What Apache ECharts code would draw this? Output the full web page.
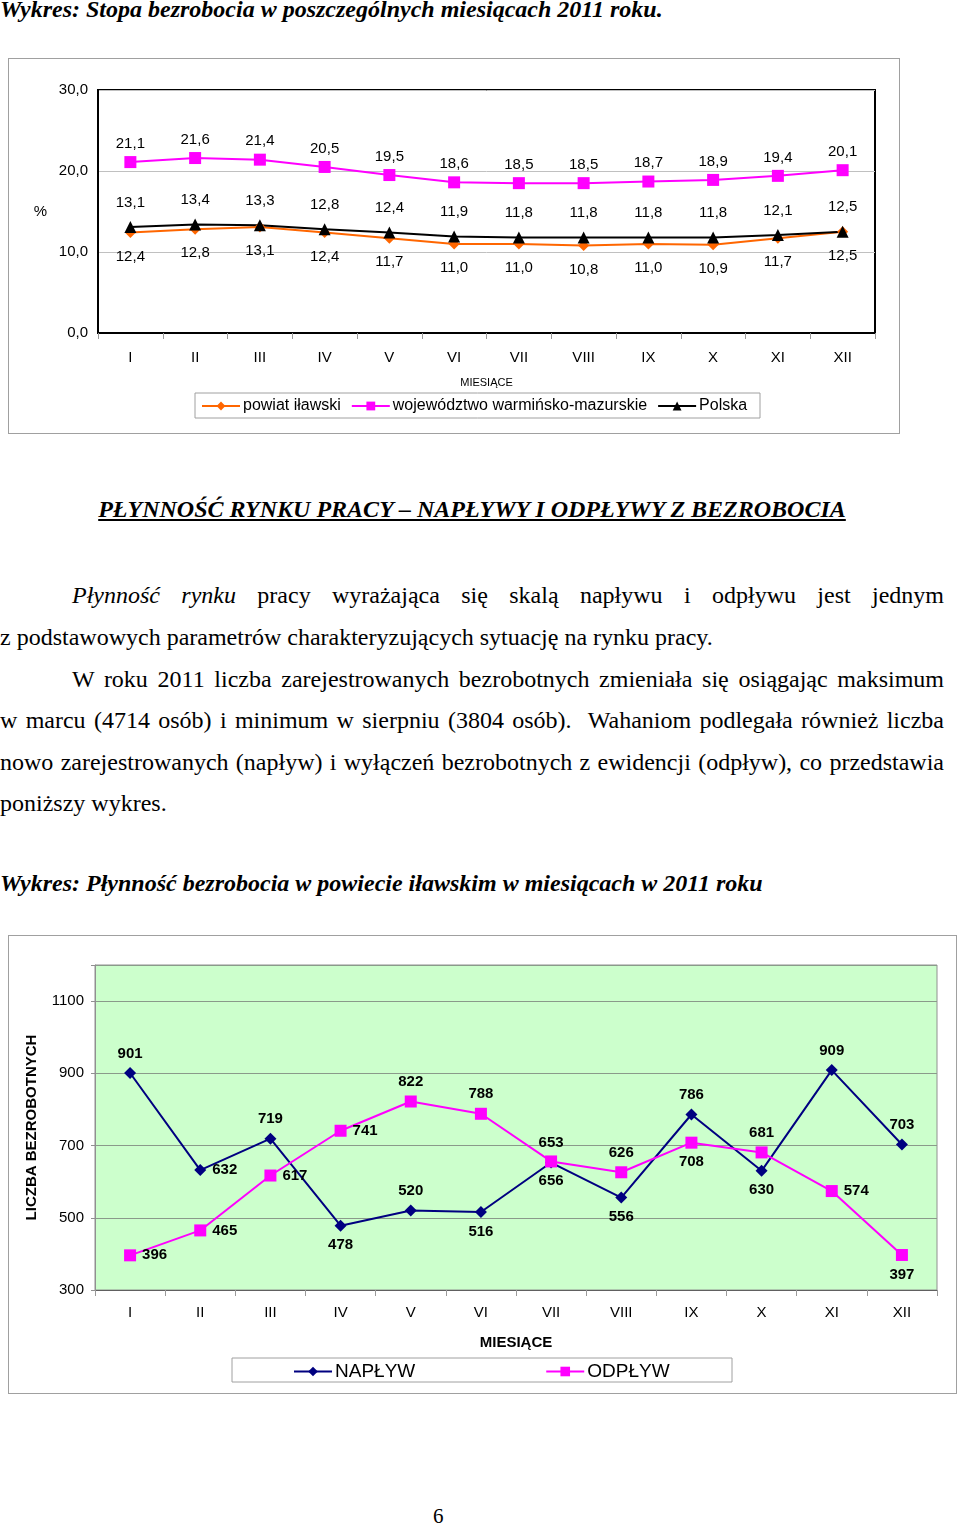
<!DOCTYPE html>
<html><head><meta charset="utf-8">
<script src="https://cdn.jsdelivr.net/npm/echarts@6/dist/echarts.min.js"></script>
<style>
html,body{margin:0;padding:0;background:#fff;}
body{width:960px;height:1527px;position:relative;overflow:hidden;font-family:"Liberation Serif","Times New Roman",serif;color:#000;}
.t{position:absolute;white-space:nowrap;}
.bi{font-weight:bold;font-style:italic;}
.ln{position:absolute;left:0;width:944px;font-size:24px;line-height:42px;height:42px;text-align:justify;text-align-last:justify;white-space:normal;}
.ln.last{text-align-last:left;white-space:nowrap;}
.box{position:absolute;border:1px solid #a0a0a0;box-sizing:border-box;background:#fff;}
</style></head>
<body>
<div class="t bi" style="left:0;top:-4px;font-size:24px;">Wykres: Stopa bezrobocia w poszczególnych miesiącach 2011 roku.</div>
<div id="c1" class="box" style="left:8px;top:58px;width:892px;height:376px;"></div>
<div class="t bi" style="left:0;width:944px;text-align:center;top:496px;font-size:24px;text-decoration:underline;">PŁYNNOŚĆ RYNKU PRACY – NAPŁYWY I ODPŁYWY Z BEZROBOCIA</div>
<div class="ln" style="top:574px;"><span style="margin-left:72px;"></span><i>Płynność rynku</i> pracy wyrażająca się skalą napływu i odpływu jest jednym</div>
<div class="ln last" style="top:616px;">z podstawowych parametrów charakteryzujących sytuację na rynku pracy.</div>
<div class="ln" style="top:658px;"><span style="margin-left:72px;"></span>W roku 2011 liczba zarejestrowanych bezrobotnych zmieniała się osiągając maksimum</div>
<div class="ln" style="top:699px;">w marcu (4714 osób) i minimum w sierpniu (3804 osób).&nbsp; Wahaniom podlegała również liczba</div>
<div class="ln" style="top:741px;">nowo zarejestrowanych (napływ) i wyłączeń bezrobotnych z ewidencji (odpływ), co przedstawia</div>
<div class="ln last" style="top:782px;">poniższy wykres.</div>
<div class="t bi" style="left:0;top:870px;font-size:24px;">Wykres: Płynność bezrobocia w powiecie iławskim w miesiącach w 2011 roku</div>
<div id="c2" class="box" style="left:8px;top:935px;width:949px;height:459px;"></div>
<div class="t" style="left:433px;top:1504px;font-size:21px;">6</div>
<script>
// ---- data ----
const months = ['I','II','III','IV','V','VI','VII','VIII','IX','X','XI','XII'];
const powiat = [12.4,12.8,13.1,12.4,11.7,11.0,11.0,10.8,11.0,10.9,11.7,12.5];
const wojewodztwo = [21.1,21.6,21.4,20.5,19.5,18.6,18.5,18.5,18.7,18.9,19.4,20.1];
const polska = [13.1,13.4,13.3,12.8,12.4,11.9,11.8,11.8,11.8,11.8,12.1,12.5];
const seriesNames1 = ['powiat iławski','województwo warmińsko-mazurskie','Polska'];

const naplyw = [901,632,719,478,520,516,653,556,786,630,909,703];
const odplyw = [396,465,617,741,822,788,656,626,708,681,574,397];
const seriesNames2 = ['NAPŁYW','ODPŁYW'];

// label placement (layout only)
const naplywLabelPos = ['top','right','top','bottom','top','bottom','top','bottom','top','bottom','top','top'];
const odplywLabelPos = ['right','right','right','right','top','top','bottom','top','bottom','top','right','bottom'];

const SANS = '"Liberation Sans", Arial, sans-serif';
const fmt1 = v => Number(v).toFixed(1).replace('.', ',');

// ---- chart 1 ----
const c1 = echarts.init(document.getElementById('c1'), null, {renderer:'canvas'});
c1.setOption({
  animation:false,
  textStyle:{fontFamily:SANS},
  grid:{left:89, top:31, width:777, height:243, show:true, borderColor:'#000', borderWidth:2, backgroundColor:'#fff', containLabel:false},
  graphic:[{type:'rect', shape:{x:186, y:334, width:565, height:25}, style:{fill:'#fff', stroke:'#a0a0a0', lineWidth:1}, z:-1}],
  legend:{left:192, top:339, itemWidth:38, itemHeight:11, itemGap:10, padding:0,
    textStyle:{fontSize:16, color:'#000', fontFamily:SANS, padding:[0,0,0,-2]}, data:seriesNames1},
  xAxis:{type:'category', data:months, boundaryGap:true,
    axisLine:{lineStyle:{color:'#000', width:2}},
    axisTick:{show:true, length:6, lineStyle:{color:'#999'}},
    axisLabel:{color:'#000', fontSize:15, margin:17, fontFamily:SANS},
    name:'MIESIĄCE', nameLocation:'middle', nameGap:44, nameTextStyle:{fontSize:11, color:'#000', fontFamily:SANS}},
  yAxis:{type:'value', min:0, max:30, interval:10,
    axisLine:{show:true, lineStyle:{color:'#000', width:2}},
    axisTick:{show:false},
    axisLabel:{color:'#000', fontSize:15, margin:10, formatter:fmt1, fontFamily:SANS},
    splitLine:{lineStyle:{color:'#c0c0c0', width:1}},
    name:'%', nameLocation:'middle', nameRotate:0, nameGap:51, nameTextStyle:{fontSize:15, color:'#000', fontFamily:SANS}},
  series:[
    {name:seriesNames1[0], type:'line', data:powiat, symbol:'diamond', symbolSize:11,
      itemStyle:{color:'#FF6600'}, lineStyle:{color:'#FF6600', width:2},
      label:{show:true, position:'bottom', distance:11, formatter:p=>fmt1(p.value), fontSize:15, color:'#000', fontFamily:SANS}},
    {name:seriesNames1[1], type:'line', data:wojewodztwo, symbol:'rect', symbolSize:12,
      itemStyle:{color:'#FF00FF'}, lineStyle:{color:'#FF00FF', width:2},
      label:{show:true, position:'top', distance:5, formatter:p=>fmt1(p.value), fontSize:15, color:'#000', fontFamily:SANS}},
    {name:seriesNames1[2], type:'line', data:polska, symbol:'triangle', symbolSize:12,
      itemStyle:{color:'#000'}, lineStyle:{color:'#000', width:2},
      label:{show:true, position:'top', distance:11, formatter:p=>fmt1(p.value), fontSize:15, color:'#000', fontFamily:SANS}}
  ]
});

// ---- chart 2 ----
const c2 = echarts.init(document.getElementById('c2'), null, {renderer:'canvas'});
const lbl2 = {show:true, distance:6, fontSize:15, fontWeight:'bold', color:'#000', fontFamily:SANS};
c2.setOption({
  animation:false,
  textStyle:{fontFamily:SANS},
  grid:{left:86, top:29, width:842, height:325, show:true, borderColor:'#909090', borderWidth:1, backgroundColor:'#CCFFCC'},
  graphic:[{type:'rect', shape:{x:223, y:422, width:500, height:24}, style:{fill:'#fff', stroke:'#a0a0a0', lineWidth:1}, z:-1}],
  legend:{left:284, top:426, itemWidth:38, itemHeight:12, itemGap:130, padding:0,
    textStyle:{fontSize:19, color:'#000', fontFamily:SANS, padding:[0,0,0,-2]}, data:seriesNames2},
  xAxis:{type:'category', data:months, boundaryGap:true,
    axisLine:{lineStyle:{color:'#606060', width:1}},
    axisTick:{show:true, length:6, lineStyle:{color:'#999'}},
    axisLabel:{color:'#000', fontSize:15, margin:15, fontFamily:SANS},
    name:'MIESIĄCE', nameLocation:'middle', nameGap:45, nameTextStyle:{fontSize:15, fontWeight:'bold', color:'#000', fontFamily:SANS}},
  yAxis:{type:'value', min:300, max:1200, interval:200,
    axisLine:{show:true, lineStyle:{color:'#909090'}},
    axisTick:{show:true, length:4, lineStyle:{color:'#909090'}},
    axisLabel:{color:'#000', fontSize:15, margin:11, fontFamily:SANS, formatter:v=> v>1100 ? '' : String(v)},
    splitLine:{lineStyle:{color:'#8a9a8a', width:1}},
    name:'LICZBA BEZROBOTNYCH', nameLocation:'middle', nameGap:56, nameTextStyle:{fontSize:15, fontWeight:'bold', color:'#000', fontFamily:SANS}},
  series:[
    {name:seriesNames2[0], type:'line', symbol:'diamond', symbolSize:12,
      data:naplyw.map((v,i)=>({value:v, label:{position:naplywLabelPos[i]}})),
      itemStyle:{color:'#000080'}, lineStyle:{color:'#000080', width:2}, label:lbl2},
    {name:seriesNames2[1], type:'line', symbol:'rect', symbolSize:12,
      data:odplyw.map((v,i)=>({value:v, label:{position:odplywLabelPos[i]}})),
      itemStyle:{color:'#FF00FF'}, lineStyle:{color:'#FF00FF', width:2}, label:lbl2}
  ]
});
</script>
</body></html>
